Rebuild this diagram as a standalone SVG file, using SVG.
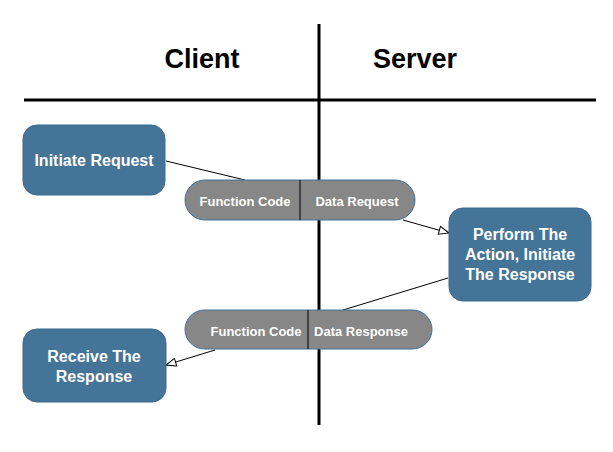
<svg xmlns="http://www.w3.org/2000/svg" width="613" height="452" viewBox="0 0 613 452">
<style>
.lane{stroke:#000;stroke-width:3;fill:none}
.hdr{font-family:"Liberation Sans",Arial,sans-serif;font-weight:bold;font-size:27px;fill:#000;text-anchor:middle}
.box{fill:#457499;stroke:#3d6a8f;stroke-width:1}
.btxt{font-family:"Liberation Sans",Arial,sans-serif;font-weight:bold;font-size:16px;fill:#fff;text-anchor:middle}
.pill{fill:#878787;stroke:#41719c;stroke-width:1}
.ptxt{font-family:"Liberation Sans",Arial,sans-serif;font-weight:bold;font-size:13px;fill:#fff;text-anchor:middle}
.div{stroke:#000;stroke-width:1}
.conn{stroke:#000;stroke-width:1;fill:none}
</style>
<defs>
<marker id="arr" viewBox="0 0 12 10" refX="11" refY="5" markerWidth="12" markerHeight="10" markerUnits="userSpaceOnUse" orient="auto">
<path d="M1,1 L11,5 L1,9 Z" fill="#fff" stroke="#000" stroke-width="1"/>
</marker>
</defs>
<rect width="613" height="452" fill="#fff"/>
<g id="lanes">
<line class="lane" x1="319" y1="24" x2="319" y2="425"/>
<line class="lane" x1="24" y1="100" x2="596" y2="100"/>
<text class="hdr" x="202" y="68">Client</text>
<text class="hdr" x="415" y="68">Server</text>
</g>
<g id="connectors">
<line class="conn" x1="166" y1="161" x2="245" y2="180"/>
<line class="conn" x1="403" y1="220" x2="449" y2="233" marker-end="url(#arr)"/>
<line class="conn" x1="448" y1="278" x2="343" y2="310"/>
<line class="conn" x1="215" y1="350" x2="166" y2="365" marker-end="url(#arr)"/>
</g>
<g id="initiate">
<rect class="box" x="23" y="125" width="142" height="70" rx="14"/>
<text class="btxt" x="94" y="166">Initiate Request</text>
</g>
<g id="request">
<rect class="pill" x="185" y="180" width="230" height="40" rx="20"/>
<line class="div" x1="300" y1="180" x2="300" y2="220"/>
<text class="ptxt" x="245" y="205.5">Function Code</text>
<text class="ptxt" x="357" y="205.5">Data Request</text>
</g>
<g id="perform">
<rect class="box" x="449" y="208" width="142" height="93" rx="14"/>
<text class="btxt" x="520" y="240">Perform The</text>
<text class="btxt" x="520" y="260">Action, Initiate</text>
<text class="btxt" x="520" y="280">The Response</text>
</g>
<g id="response">
<rect class="pill" x="185" y="310" width="247" height="39" rx="19.5"/>
<line class="div" x1="308" y1="310" x2="308" y2="349"/>
<text class="ptxt" x="256" y="336">Function Code</text>
<text class="ptxt" x="361" y="336">Data Response</text>
</g>
<g id="receive">
<rect class="box" x="23" y="329" width="143" height="73" rx="14"/>
<text class="btxt" x="94" y="361.5">Receive The</text>
<text class="btxt" x="94" y="381.5">Response</text>
</g>
</svg>
